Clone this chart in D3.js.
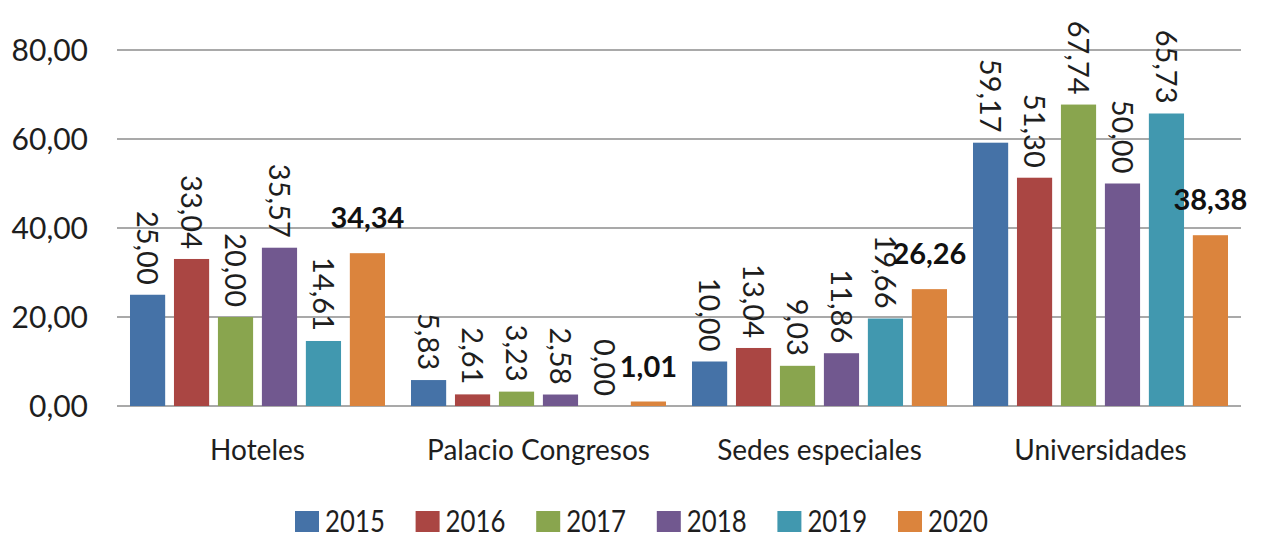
<!DOCTYPE html>
<html><head><meta charset="utf-8">
<script src="https://cdn.jsdelivr.net/npm/d3@7"></script>
<style>body{margin:0;background:#fff}svg{display:block}text{font-family:Lato,"Open Sans",sans-serif;fill:#1e1e1e}</style>
</head><body>
<svg id="c" width="1268" height="539"></svg>
<script>
const categories = ["Hoteles","Palacio Congresos","Sedes especiales","Universidades"];
const years = ["2015","2016","2017","2018","2019","2020"];
const v2015 = [25.00, 5.83, 10.00, 59.17];
const v2016 = [33.04, 2.61, 13.04, 51.30];
const v2017 = [20.00, 3.23, 9.03, 67.74];
const v2018 = [35.57, 2.58, 11.86, 50.00];
const v2019 = [14.61, 0.00, 19.66, 65.73];
const v2020 = [34.34, 1.01, 26.26, 38.38];
const yTicks = [0, 20, 40, 60, 80];
const colors = ["#4572A7","#AA4643","#89A54E","#71588F","#4198AF","#DB843D"];

const seriesVals = [v2015, v2016, v2017, v2018, v2019, v2020];
const svg = d3.select("#c");
const mLeft = 117, mRight = 1241, mTop = 50, mBottom = 406;

const y = d3.scaleLinear().domain([0, 80]).range([mBottom, mTop]);
const x0 = d3.scaleBand().domain(categories).range([mLeft, mRight]).paddingInner(0.0925).paddingOuter(0.04625);
const x1 = d3.scaleBand().domain(years).range([0, x0.bandwidth()]).paddingInner(0.2).paddingOuter(0);
const color = d3.scaleOrdinal().domain(years).range(colors);
const fmt = v => d3.format(".2f")(v).replace(".", ",");

// grid
svg.append("g").selectAll("line").data(yTicks).join("line")
  .attr("x1", mLeft).attr("x2", mRight)
  .attr("y1", d => y(d)).attr("y2", d => y(d))
  .attr("stroke", "#8c8c8c").attr("stroke-width", 1.6);

// y tick labels
svg.append("g").selectAll("text").data(yTicks).join("text")
  .attr("x", 88).attr("y", d => y(d)).attr("dy", "0.36em")
  .attr("text-anchor", "end").attr("font-size", 30)
  .text(d => fmt(d));

// bars
const data = [];
categories.forEach((c, ci) => years.forEach((yr, si) => data.push({c, yr, si, v: seriesVals[si][ci]})));

svg.append("g").selectAll("rect").data(data).join("rect")
  .attr("x", d => x0(d.c) + x1(d.yr))
  .attr("width", x1.bandwidth())
  .attr("y", d => y(d.v))
  .attr("height", d => y(0) - y(d.v))
  .attr("fill", d => color(d.yr));

// rotated labels (2015-2019)
svg.append("g").selectAll("text").data(data.filter(d => d.si < 5)).join("text")
  .attr("transform", d => `translate(${x0(d.c) + x1(d.yr) + x1.bandwidth()/2},${y(d.v) - 10}) rotate(90)`)
  .attr("text-anchor", "end").attr("dy", "0.36em").attr("font-size", 29)
  .text(d => fmt(d.v));

// bold labels (2020)
svg.append("g").selectAll("text").data(data.filter(d => d.si === 5)).join("text")
  .attr("x", d => x0(d.c) + x1(d.yr) + x1.bandwidth()/2)
  .attr("y", d => y(d.v) - 25)
  .attr("text-anchor", "middle").attr("font-size", 29).attr("font-weight", "bold")
  .style("fill", "#111")
  .text(d => fmt(d.v));

// category labels
svg.append("g").selectAll("text").data(categories).join("text")
  .attr("x", d => x0(d) + x0.bandwidth()/2).attr("y", 460)
  .attr("text-anchor", "middle").attr("font-size", 28)
  .text(d => d);

// legend
const lg = svg.append("g").selectAll("g").data(years).join("g")
  .attr("transform", (d, i) => `translate(${295 + i * 120.6},0)`);
lg.append("rect").attr("x", 0).attr("y", 511).attr("width", 24).attr("height", 21).attr("fill", d => color(d));
lg.append("text").attr("transform", "translate(30,532) scale(0.86,1)")
  .attr("font-size", 30).text(d => d);
</script>
</body></html>
